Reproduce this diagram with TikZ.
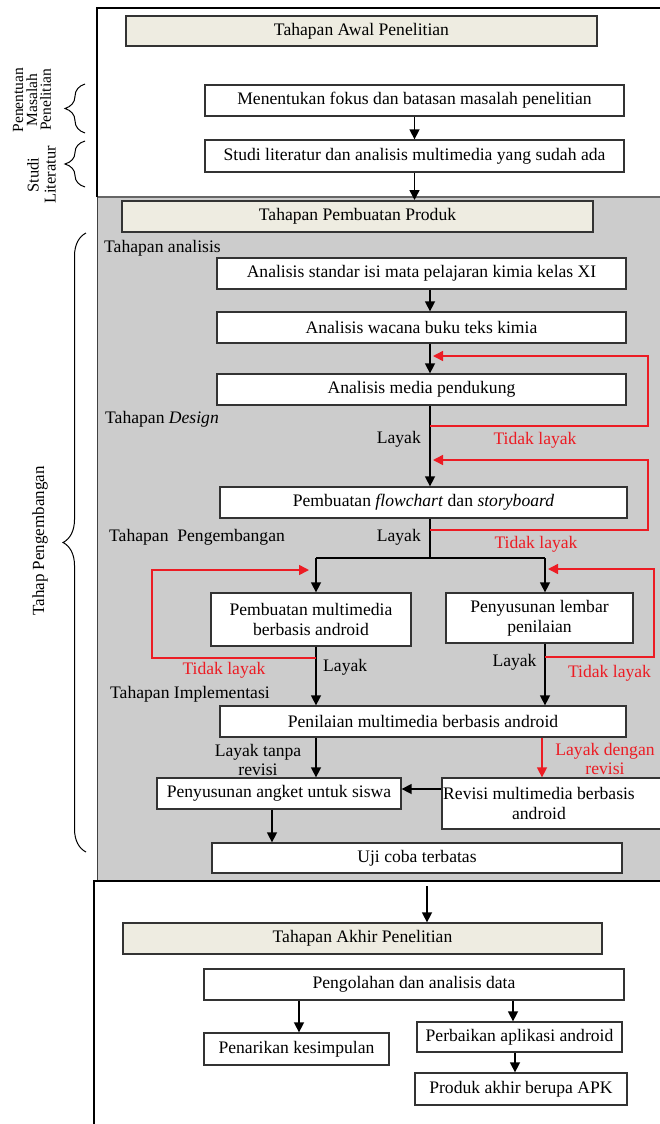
\documentclass[tikz,border=0pt]{standalone}
\usepackage{fontspec}
\setmainfont{Liberation Serif}
\usetikzlibrary{arrows.meta,decorations.pathreplacing}
\definecolor{mygray}{RGB}{204,204,204}
\definecolor{beige}{RGB}{238,236,225}
\definecolor{myred}{RGB}{236,28,36}
\begin{document}
\begin{tikzpicture}[x=1pt,y=-1pt,
  box/.style={draw=black!80, line width=1.3pt, fill=white, inner sep=0pt, align=center, font=\fontsize{17.6}{20}\selectfont},
  hbox/.style={box, fill=beige},
  lbl/.style={inner sep=0pt, align=center, font=\fontsize{17.6}{20}\selectfont},
  rlbl/.style={lbl, text=myred},
  conn/.style={line width=1.5pt},
  arr/.style={conn, -{Triangle[length=10pt,width=10pt]}},
  rarr/.style={arr, draw=myred},
  brc/.style={line width=1pt, decorate, decoration={brace, amplitude=#1}},
  side/.style={inner sep=0pt, align=center, rotate=90}
]
\useasboundingbox (0,0) rectangle (660,1124);
\clip (0,0) rectangle (660,1124);
\fill[white] (0,0) rectangle (660,1124);

% frames
\fill[mygray] (97,197) rectangle (662,881);
\draw[black!60, line width=1.8pt] (97,197) -- (662,197);
\draw[black!75, line width=1pt] (97,197) -- (97,881);
\draw[line width=1.3pt] (97,197) -- (97,8) -- (662,8);
\draw[line width=2pt] (94,1130) -- (94,881) -- (662,881);

% side labels and braces
\node[side, font=\fontsize{15.5}{13.8}\selectfont] (sl1) at (32,100) {Penentuan\\Masalah\\Penelitian};
\node[side, font=\fontsize{16.5}{17}\selectfont] (sl2) at (41.5,175) {Studi\\Literatur};
\node[side, font=\fontsize{17}{20}\selectfont] (sl3) at (40,541) {Tahap Pengembangan};
\draw[brc=20pt] (85,133) -- (85,84);
\draw[brc=20pt] (85,187) -- (85,141);
\draw[brc=23pt] (86,852) -- (86,233);

% top part
\node[hbox, minimum width=471, minimum height=30] (b1) at (361.5,31) {Tahapan Awal Penelitian};
\node[box, minimum width=419, minimum height=31] (b2) at (414.5,100.5) {Menentukan fokus dan batasan masalah penelitian};
\node[box, minimum width=419, minimum height=32] (b3) at (414.5,156) {Studi literatur dan analisis multimedia yang sudah ada};
\coordinate (g1) at (414.5,200);
\draw[arr] (b2.south) -- (b3.north);
\draw[arr] (b3.south) -- (g1);

% production
\node[hbox, minimum width=471, minimum height=31] (b4) at (357.5,216.5) {Tahapan Pembuatan Produk};
\node[lbl, anchor=west] (t1) at (104,248) {Tahapan analisis};
\node[box, minimum width=409, minimum height=31] (b6) at (421.5,273.5) {Analisis standar isi mata pelajaran kimia kelas XI};
\node[box, minimum width=409, minimum height=31] (b7) at (421.5,327.5) {Analisis wacana buku teks kimia};
\node[box, minimum width=409, minimum height=31] (b8) at (421.5,389.5) {Analisis media pendukung};
\node[lbl, anchor=west] (t2) at (105,419) {Tahapan \textit{Design}};
\node[box, minimum width=407, minimum height=31] (b9) at (423.5,502.5) {Pembuatan \textit{flowchart} dan \textit{storyboard}};
\node[lbl, anchor=west] (t3) at (109,537) {Tahapan\ \ Pengembangan};
\node[box, minimum width=200, minimum height=53] (b10) at (311,619.5) {Pembuatan multimedia\\berbasis android};
\node[box, minimum width=187, minimum height=50] (b11) at (539.5,618) {Penyusunan lembar\\penilaian};
\node[lbl, anchor=west] (t4) at (110,694) {Tahapan Implementasi};
\node[box, minimum width=406, minimum height=31] (b12) at (423,721.5) {Penilaian multimedia berbasis android};
\node[box, minimum width=244, minimum height=31] (b13) at (279,793.5) {Penyusunan angket untuk siswa};
\node[box, minimum width=222, minimum height=51] (b14) at (553,803.5) {};
\node[lbl] (b14t) at (539,803.5) {Revisi multimedia berbasis\\android};
\node[box, minimum width=410, minimum height=30] (b15) at (417,858) {Uji coba terbatas};

% columns
\coordinate (c1) at (430,0);
\coordinate (cl) at (316,0);
\coordinate (cr) at (545,0);
\coordinate (sp) at (430,558);
\coordinate (spl) at (316,558);
\coordinate (spr) at (545,558);

\draw[arr] (b6.south -| c1) -- (b7.north -| c1);
\draw[arr] (b7.south -| c1) -- (b8.north -| c1);
\draw[arr] (b8.south -| c1) -- (b9.north -| c1);
\draw[conn] (b9.south -| c1) -- (sp);
\draw[conn] (spl) -- (spr);
\draw[arr] (spl) -- (b10.north -| cl);
\draw[arr] (spr) -- (b11.north -| cr);
\draw[arr] (b10.south -| cl) -- (b12.north -| cl);
\draw[arr] (b11.south -| cr) -- (b12.north -| cr);
\draw[arr] (b12.south -| cl) -- (b13.north -| cl);
\coordinate (ry) at (0,789);
\draw[arr] (b14.west |- ry) -- (b13.east |- ry);
\coordinate (cx3) at (272,0);
\draw[arr] (b13.south -| cx3) -- (b15.north -| cx3);
\coordinate (cx4) at (542,0);
\draw[rarr] (b12.south -| cx4) -- (b14.north -| cx4);

% red loops
\coordinate (r1a) at (430,426); \coordinate (r1b) at (648,426);
\coordinate (r1c) at (648,356); \coordinate (r1d) at (433,356);
\draw[rarr] (r1a) -- (r1b) -- (r1c) -- (r1d);
\coordinate (r2a) at (430,530); \coordinate (r2b) at (648,530);
\coordinate (r2c) at (648,460); \coordinate (r2d) at (433,460);
\draw[rarr] (r2a) -- (r2b) -- (r2c) -- (r2d);
\coordinate (r3a) at (316,658); \coordinate (r3b) at (152,658);
\coordinate (r3c) at (152,570); \coordinate (r3d) at (309,570);
\draw[rarr] (r3a) -- (r3b) -- (r3c) -- (r3d);
\coordinate (r4a) at (545,657); \coordinate (r4b) at (654,657);
\coordinate (r4c) at (654,569); \coordinate (r4d) at (548,569);
\draw[rarr] (r4a) -- (r4b) -- (r4c) -- (r4d);

% labels
\node[lbl, anchor=east] (l1) at (421,439) {Layak};
\node[rlbl] (n1) at (535,440) {Tidak layak};
\node[lbl, anchor=east] (l2) at (421,537) {Layak};
\node[rlbl] (n2) at (536,544) {Tidak layak};
\node[rlbl] (n3) at (224,670) {Tidak layak};
\node[lbl, anchor=west] (l3) at (323,667) {Layak};
\node[lbl] (l4) at (514.5,662) {Layak};
\node[rlbl] (n4) at (609.5,673) {Tidak layak};
\node[lbl, font=\fontsize{17.6}{19}\selectfont] (l5) at (258,759.5) {Layak tanpa\\revisi};
\node[rlbl, font=\fontsize{17.6}{19}\selectfont] (n5) at (605,758.5) {Layak dengan\\revisi};

% final part
\coordinate (g2) at (427,886);
\node[hbox, minimum width=479, minimum height=31] (b16) at (362.5,938.5) {Tahapan Akhir Penelitian};
\node[box, minimum width=420, minimum height=31] (b17) at (414,984.5) {Pengolahan dan analisis data};
\node[box, minimum width=185, minimum height=32] (b18) at (296.5,1049) {Penarikan kesimpulan};
\node[box, minimum width=205, minimum height=30] (b19) at (519.5,1037) {Perbaikan aplikasi android};
\node[box, minimum width=212, minimum height=32] (b20) at (521,1089) {Produk akhir berupa APK};
\coordinate (c5) at (299,0);
\coordinate (c6) at (513,0);
\coordinate (c7) at (515,0);
\draw[arr] (g2) -- (b16.north -| g2);
\draw[arr] (b17.south -| c5) -- (b18.north -| c5);
\draw[arr] (b17.south -| c6) -- (b19.north -| c6);
\draw[arr] (b19.south -| c7) -- (b20.north -| c7);
\end{tikzpicture}
\end{document}
